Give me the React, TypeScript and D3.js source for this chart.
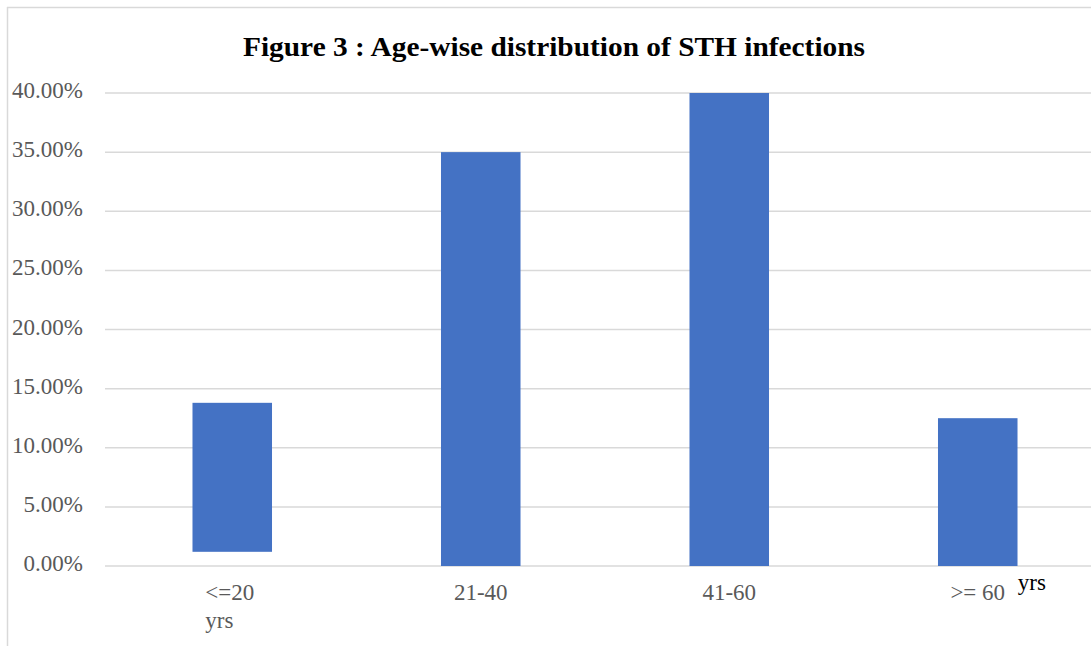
import React from "react";
import * as d3 from "d3";

const categories = ["<=20 yrs", "21-40", "41-60", ">= 60"];
const values = [0.138, 0.35, 0.40, 0.125];
const barBase = [0.012, 0, 0, 0];
const yTicks = [0, 0.05, 0.1, 0.15, 0.2, 0.25, 0.3, 0.35, 0.4];
const title = "Figure 3 : Age-wise distribution of STH infections";

const W = 1091;
const H = 646;
const margin = { left: 105, right: -11, top: 93, bottom: 80 };

export default function App() {
  const x = d3
    .scaleBand<string>()
    .domain(categories)
    .range([margin.left + 3, W - margin.right])
    .paddingInner(0.68)
    .paddingOuter(0.34);
  const y = d3.scaleLinear().domain([0, 0.4]).range([H - margin.bottom, margin.top]);
  const fmt = d3.format(".2%");
  const serif = "'Liberation Serif', 'Times New Roman', serif";
  const grey = "#595959";
  const grid = "#d9d9d9";
  const fs = 23;

  return (
    <svg
      width={W}
      height={H}
      style={{ position: "absolute", left: 0, top: 0, background: "#fff" }}
    >
      <line x1={7.5} x2={7.5} y1={7} y2={H} stroke={grid} strokeWidth={1.5} />
      <line x1={7} x2={W} y1={7.5} y2={7.5} stroke={grid} strokeWidth={1.5} />
      <text
        x={554}
        y={56}
        textAnchor="middle"
        fontFamily={serif}
        fontWeight="bold"
        fontSize={27}
        textLength={622}
        lengthAdjust="spacingAndGlyphs"
        fill="#000"
      >
        {title}
      </text>
      {yTicks.map((t) => (
        <g key={t}>
          <line
            x1={margin.left}
            x2={W}
            y1={y(t)}
            y2={y(t)}
            stroke={grid}
            strokeWidth={1.5}
          />
          <text
            x={83}
            y={y(t) - 3}
            dy="0.35em"
            textAnchor="end"
            fontFamily={serif}
            fontSize={fs}
            fill={grey}
          >
            {fmt(t)}
          </text>
        </g>
      ))}
      {categories.map((c, i) => (
        <rect
          key={c}
          x={x(c)}
          width={x.bandwidth()}
          y={y(values[i])}
          height={y(barBase[i]) - y(values[i])}
          fill="#4472C4"
        />
      ))}
      {categories.map((c, i) => {
        const cx = (x(c) as number) + x.bandwidth() / 2;
        if (i === 0) {
          const parts = c.split(" ");
          return (
            <text key={c} fontFamily={serif} fontSize={fs} fill={grey}>
              <tspan x={cx - 27} y={600}>{parts[0]}</tspan>
              <tspan x={cx - 27} y={628}>{parts[1]}</tspan>
            </text>
          );
        }
        if (i === 3) {
          return (
            <g key={c}>
              <text x={cx} y={600} textAnchor="middle" fontFamily={serif} fontSize={fs} fill={grey}>
                {c}
              </text>
              <text x={cx + 40} y={590} fontFamily={serif} fontSize={fs} fill="#000">
                yrs
              </text>
            </g>
          );
        }
        return (
          <text key={c} x={cx} y={600} textAnchor="middle" fontFamily={serif} fontSize={fs} fill={grey}>
            {c}
          </text>
        );
      })}
    </svg>
  );
}
